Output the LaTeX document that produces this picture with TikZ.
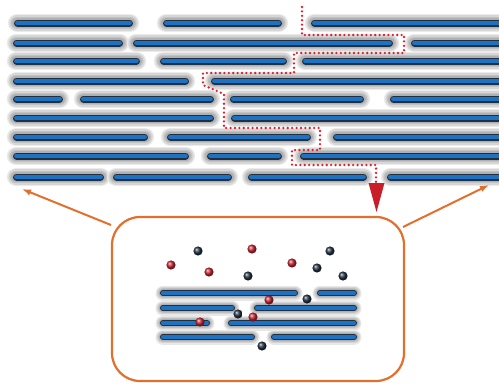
\documentclass[tikz,border=0pt]{standalone}
\usetikzlibrary{arrows.meta}

\definecolor{fibreblue}{RGB}{30,114,196}
\definecolor{fibreedge}{RGB}{30,48,66}
\definecolor{pathred}{RGB}{222,32,44}
\definecolor{dropred}{RGB}{200,30,40}
\definecolor{boxorange}{RGB}{226,112,44}
\definecolor{inkblue}{RGB}{34,50,66}
\definecolor{saltred}{RGB}{200,36,48}

\tikzset{
  glow/.style={line cap=round, line width=#1},
  fibre/.style={line cap=round, line width=#1},
  zoombox/.style={draw=boxorange, line width=2.2pt, rounded corners=28pt,
    minimum width=292pt, minimum height=164pt, inner sep=0pt},
  zoomarrow/.style={boxorange, line width=2pt, -{Latex[length=9pt,width=6.5pt]}},
  leakpath/.style={pathred, line width=2.6pt, line cap=round, line join=round,
    dash pattern=on 0pt off 4.4pt}
}

% y / left end / right end of every fibre
\def\toprows{23/14/133, 23/163/282, 23/311/505,
  43/13/123, 43/133/393, 43/411/505,
  61/13/140, 61/160/287, 61/302/505,
  81/13/189, 81/211/505,
  99/13/63, 99/80/214, 99/230/364, 99/390/505,
  118/13/214, 118/231/505,
  137/13/148, 137/167/311, 137/333/505,
  156/13/189, 156/207/282, 156/300/505,
  177/13/104, 177/113/232, 177/248/367, 177/387/505}
\def\inrows{293/160/298, 293/317/357,
  308/160/235, 308/254/357,
  323/160/210, 323/228/357,
  337/160/255, 337/271/357}

\begin{document}
\begin{tikzpicture}[x=1pt,y=-1pt]
  \useasboundingbox (0,0) rectangle (499,383);

  % grey glow round the fibres
  \foreach \y/\a/\b in \toprows {
    \draw[glow=18.5pt, gray!16] (\a+3,\y) -- (\b-3,\y);
    \draw[glow=15.5pt, gray!32] (\a+3,\y) -- (\b-3,\y);
    \draw[glow=12.5pt, gray!48] (\a+3,\y) -- (\b-3,\y);
    \draw[glow=10pt, gray!62] (\a+3,\y) -- (\b-3,\y);
  }
  % the fibres
  \foreach \y/\a/\b in \toprows {
    \draw[fibre=7pt, fibreedge] (\a+3.5,\y) -- (\b-3.5,\y);
    \draw[fibre=4.8pt, fibreblue] (\a+3.5,\y) -- (\b-3.5,\y);
  }

  % path through the gaps
  \draw[leakpath] (302,7) -- (302,35) -- (404,35) -- (404,53) -- (294,53)
    -- (294,73) -- (203,73) -- (203,85) -- (224,94) -- (224,128)
    -- (320,128) -- (320,150) -- (292,150) -- (292,165) -- (376,165)
    -- (376,182);
  \coordinate (droptip) at (376.5,212);
  \fill[dropred] (368.5,183) -- (384.5,183) -- (droptip) -- cycle;

  % close-up
  \node[zoombox] (inset) at (258,299) {};
  \coordinate (lfoot) at (111,225);
  \coordinate (ltip) at (22,189);
  \coordinate (rfoot) at (403,227);
  \coordinate (rtip) at (489,185);
  \draw[zoomarrow] (lfoot) -- (ltip);
  \draw[zoomarrow] (rfoot) -- (rtip);

  \foreach \y/\a/\b in \inrows {
    \draw[glow=15pt, gray!18] (\a+3,\y) -- (\b-3,\y);
    \draw[glow=12.5pt, gray!34] (\a+3,\y) -- (\b-3,\y);
    \draw[glow=10pt, gray!50] (\a+3,\y) -- (\b-3,\y);
    \draw[glow=8pt, gray!62] (\a+3,\y) -- (\b-3,\y);
  }
  \foreach \y/\a/\b in \inrows {
    \draw[fibre=5.8pt, fibreedge] (\a+2.9,\y) -- (\b-2.9,\y);
    \draw[fibre=3.8pt, fibreblue] (\a+2.9,\y) -- (\b-2.9,\y);
  }

  % particles
  \foreach \x/\y in {198/251, 248/276, 330/251, 317/268, 343/276,
      307/299, 238/314, 262/346}
    \shade[ball color=inkblue] (\x,\y) circle [radius=4.6pt];
  \foreach \x/\y in {171/265, 209/272, 252/249, 292/263, 269/300,
      253/317, 200/322}
    \shade[ball color=saltred] (\x,\y) circle [radius=4.6pt];
\end{tikzpicture}
\end{document}
